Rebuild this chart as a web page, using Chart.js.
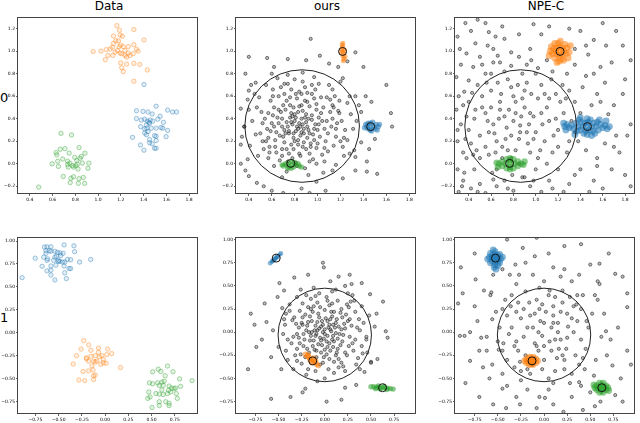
<!DOCTYPE html>
<html>
<head>
<meta charset="utf-8">
<script src="https://cdn.jsdelivr.net/npm/chart.js@4.4.1/dist/chart.umd.min.js"></script>
<style>
body { margin: 0; background: #fff; width: 640px; height: 423px; position: relative; overflow: hidden; font-family: "DejaVu Sans", sans-serif; }
.title { position: absolute; top: -1px; width: 182px; text-align: center; font-size: 12px; }
.rowlab { position: absolute; left: 0; font-size: 13px; }
canvas { position: absolute; }
</style>
</head>
<body>
<div class="title" style="left:18px">Data</div>
<div class="title" style="left:236px">ours</div>
<div class="title" style="left:455px">NPE-C</div>
<div class="rowlab" style="top:90px">0</div>
<div class="rowlab" style="top:310px">1</div>
<canvas id="c00" width="202" height="192" style="left:0px;top:12px"></canvas>
<canvas id="c01" width="202" height="192" style="left:218px;top:12px"></canvas>
<canvas id="c02" width="202" height="192" style="left:437px;top:12px"></canvas>
<canvas id="c10" width="202" height="192" style="left:0px;top:232px"></canvas>
<canvas id="c11" width="202" height="192" style="left:218px;top:232px"></canvas>
<canvas id="c12" width="202" height="192" style="left:437px;top:232px"></canvas>
<script>
// tick labels
const xTicks0 = [0.4, 0.6, 0.8, 1.0, 1.2, 1.4, 1.6, 1.8];
const yTicks0 = [-0.2, 0.0, 0.2, 0.4, 0.6, 0.8, 1.0, 1.2];
const xTicks1 = [-0.75, -0.5, -0.25, 0.0, 0.25, 0.5, 0.75];
const yTicks1 = [-0.75, -0.5, -0.25, 0.0, 0.25, 0.5, 0.75, 1.0];

// row 0 observed data (x, y pairs)
const data0Blue = [1.404,0.703, 1.511,0.510, 1.612,0.476, 1.655,0.459, 1.690,0.459, 1.338,0.470, 1.396,0.464, 1.439,0.459, 1.476,0.441, 1.546,0.421,
  1.338,0.401, 1.381,0.387, 1.410,0.395, 1.433,0.378, 1.448,0.367, 1.459,0.387, 1.482,0.378, 1.526,0.395, 1.575,0.367, 1.375,0.329,
  1.410,0.309, 1.430,0.315, 1.453,0.358, 1.468,0.315, 1.511,0.315, 1.554,0.321, 1.569,0.315, 1.612,0.295, 1.303,0.234, 1.410,0.272,
  1.425,0.257, 1.497,0.249, 1.511,0.243, 1.598,0.240, 1.453,0.214, 1.511,0.206, 1.373,0.166, 1.453,0.186, 1.476,0.177, 1.497,0.137,
  1.511,0.137, 1.404,0.120, 1.425,0.344, 1.439,0.286];
const data0Orange = [1.165,1.226, 1.188,1.186, 1.315,1.191, 1.136,1.134, 1.194,1.143, 1.214,1.131, 1.179,1.091, 1.156,1.091, 1.404,1.099, 0.957,0.996,
  1.026,0.999, 1.072,1.013, 1.107,1.019, 1.127,1.033, 1.136,1.068, 1.199,1.053, 1.222,1.039, 1.266,1.039, 1.315,1.056, 1.338,1.016,
  1.352,0.999, 1.087,0.961, 1.130,0.961, 1.194,0.982, 1.208,0.976, 1.237,0.961, 1.266,0.982, 1.280,0.961, 1.309,0.976, 1.064,0.924,
  1.199,0.895, 1.251,0.884, 1.315,0.890, 1.367,0.881, 1.208,0.852, 1.433,0.832, 1.222,0.818, 1.315,0.732, 1.171,1.005, 1.185,1.039,
  1.237,1.005, 1.251,0.947, 1.150,0.990];
const data0Green = [0.674,0.269, 0.767,0.255, 0.833,0.143, 0.885,0.094, 0.668,0.128, 0.709,0.134, 0.631,0.099, 0.637,0.079, 0.746,0.094, 0.795,0.056,
  0.853,0.065, 0.842,0.048, 0.689,0.042, 0.645,0.022, 0.596,-0.001, 0.732,0.022, 0.752,0.005, 0.775,-0.016, 0.804,-0.018, 0.818,-0.004,
  0.862,0.005, 0.919,0.005, 0.651,-0.024, 0.738,-0.030, 0.784,-0.030, 0.824,-0.047, 0.911,-0.041, 0.694,-0.113, 0.761,-0.130, 0.784,-0.116,
  0.833,-0.133, 0.870,-0.122, 0.755,-0.168, 0.827,-0.174, 0.882,-0.174, 0.478,-0.208, 0.732,-0.007, 0.813,0.028];

// row 1 observed data
const data1Blue = [-0.653,0.934, -0.625,0.937, -0.583,0.937, -0.441,0.958, -0.335,0.948, -0.636,0.895, -0.600,0.895, -0.583,0.888, -0.540,0.888, -0.512,0.877,
  -0.484,0.870, -0.452,0.866, -0.328,0.884, -0.752,0.813, -0.660,0.824, -0.618,0.806, -0.540,0.824, -0.523,0.835, -0.477,0.842, -0.625,0.789,
  -0.554,0.789, -0.501,0.789, -0.487,0.778, -0.459,0.771, -0.434,0.771, -0.406,0.799, -0.371,0.796, -0.275,0.771, -0.155,0.799, -0.678,0.725,
  -0.583,0.728, -0.530,0.736, -0.441,0.728, -0.388,0.700, -0.371,0.700, -0.625,0.675, -0.583,0.682, -0.583,0.629, -0.434,0.654, -0.417,0.591,
  -0.540,0.576, -0.893,0.601, -0.505,0.778, -0.636,0.866];
const data1Orange = [-0.230,-0.085, -0.177,-0.131, -0.258,-0.177, -0.152,-0.191, -0.071,-0.166, 0.028,-0.177, -0.307,-0.248, -0.201,-0.272, -0.152,-0.255, -0.106,-0.248,
  -0.060,-0.262, -0.035,-0.248, 0.018,-0.237, 0.071,-0.226, -0.343,-0.339, -0.201,-0.283, -0.177,-0.308, -0.124,-0.308, -0.088,-0.308, -0.106,-0.318,
  -0.018,-0.290, 0.011,-0.332, -0.046,-0.343, -0.141,-0.361, 0.166,-0.378, -0.131,-0.403, -0.237,-0.421, -0.177,-0.414, -0.124,-0.467, -0.106,-0.460,
  -0.282,-0.513, -0.219,-0.520, -0.124,-0.509, -0.018,-0.325, -0.071,-0.212];
const data1Green = [0.572,-0.396, 0.671,-0.361, 0.512,-0.424, 0.600,-0.421, 0.646,-0.467, 0.731,-0.424, 0.477,-0.545, 0.512,-0.555, 0.565,-0.545, 0.611,-0.537,
  0.636,-0.527, 0.583,-0.573, 0.625,-0.573, 0.689,-0.580, 0.802,-0.502, 0.717,-0.601, 0.742,-0.608, 0.759,-0.601, 0.812,-0.583, 0.936,-0.520,
  0.470,-0.644, 0.547,-0.661, 0.583,-0.668, 0.625,-0.672, 0.671,-0.661, 0.706,-0.644, 0.766,-0.661, 0.459,-0.714, 0.484,-0.697, 0.583,-0.750,
  0.653,-0.750, 0.689,-0.767, 0.777,-0.714, 0.583,-0.792, 0.689,-0.792, 0.505,-0.813, 0.611,-0.622, 0.682,-0.626];

// true parameters
const truth0 = [1.218,0.998, 1.463,0.330, 0.766,0.003];
const truth1 = [-0.525,0.800, -0.130,-0.310, 0.625,-0.600];

// prior samples (grey)
const oursGrey0 = [0.85,0.33, 0.81,0.29, 0.90,0.37, 0.76,0.41, 0.96,0.26, 0.71,0.30, 1.01,0.41, 0.83,0.46, 0.88,0.19, 0.66,0.36,
  1.06,0.31, 0.79,0.23, 0.93,0.51, 0.61,0.43, 1.11,0.46, 0.73,0.56, 0.99,0.14, 0.84,0.09, 0.56,0.31, 1.16,0.24,
  0.69,0.13, 1.03,0.59, 0.91,0.63, 0.63,0.21, 1.21,0.38, 0.51,0.46, 0.77,0.66, 1.09,0.11, 0.59,0.56, 0.96,0.04,
  0.81,0.01, 1.19,0.56, 0.46,0.26, 0.71,0.71, 1.26,0.21, 0.87,0.73, 0.53,0.13, 1.13,0.66, 0.67,0.03, 1.06,0.02,
  0.43,0.38, 0.61,0.66, 0.97,0.77, 0.74,0.79, 1.29,0.44, 0.49,0.59, 1.23,0.07, 0.57,0.05, 0.89,-0.04, 0.73,-0.07,
  1.16,-0.01, 0.41,0.16, 1.31,0.31, 0.65,0.76, 1.01,0.71, 0.78,0.35, 0.92,0.30, 0.86,0.40, 0.80,0.38, 0.95,0.43,
  0.74,0.33, 0.88,0.27, 0.83,0.21, 0.98,0.35, 0.70,0.24, 0.77,0.17, 1.02,0.24, 0.94,0.18, 0.68,0.46, 0.86,0.52,
  1.05,0.50, 0.64,0.28, 0.79,0.50, 0.90,0.44, 0.72,0.48, 1.08,0.38, 0.60,0.36, 0.97,0.58, 0.82,0.58, 1.12,0.33,
  0.55,0.20, 0.75,0.09, 0.93,0.09, 1.14,0.16, 0.62,0.50, 0.84,0.64, 1.07,0.20, 0.66,0.60, 0.99,0.48, 0.52,0.36,
  1.18,0.47, 0.47,0.50, 0.71,0.62, 1.24,0.30, 0.58,0.10, 0.89,0.68, 1.15,0.60, 0.78,0.05, 1.04,0.08, 0.48,0.07,
  0.62,-0.02, 1.22,0.15, 0.45,0.62, 0.80,0.75, 1.10,0.70, 0.36,0.33, 1.34,0.38, 0.55,0.70, 0.92,-0.10, 1.26,0.54,
  0.69,-0.12, 1.05,-0.08, 0.40,0.48, 0.87,0.81, 0.39,0.04, 1.32,0.12, 0.60,0.80, 1.20,0.73, 0.75,0.27, 0.84,0.36,
  0.91,0.23, 0.80,0.44, 0.69,0.40, 1.00,0.30, 0.87,0.15, 0.76,0.52, 0.95,0.62, 0.63,0.15, 1.17,0.36, 0.57,0.45,
  0.82,-0.02, 0.99,0.00, 0.74,0.71, 1.13,0.52, 0.50,0.27, 1.28,0.60, 0.42,0.70, 1.36,0.52,
  0.83,0.31, 0.87,0.35, 0.79,0.27, 0.91,0.33, 0.85,0.25, 0.81,0.41, 0.93,0.27, 0.77,0.37, 0.89,0.41, 0.75,0.29,
  0.95,0.39, 0.83,0.17, 0.73,0.37, 0.97,0.21, 0.87,0.47, 0.79,0.13, 0.69,0.33, 1.01,0.35, 0.91,0.55, 0.67,0.25,
  1.03,0.45, 0.77,0.45, 0.85,0.07, 0.65,0.41, 1.09,0.27, 0.71,0.19, 0.99,0.53, 0.59,0.29, 1.13,0.40, 0.81,0.62,
  0.64,0.10, 1.11,0.57, 0.93,0.02, 0.70,0.52, 1.06,0.14, 0.54,0.40, 0.76,0.59, 1.16,0.31, 0.90,0.13, 0.61,0.60,
  1.19,0.45, 0.74,0.02, 0.95,0.70, 0.52,0.20, 1.23,0.23, 0.86,0.62, 0.68,0.68, 1.08,0.59, 0.57,0.23, 0.88,0.31,
  0.82,0.33, 0.86,0.28, 0.80,0.20, 0.92,0.40, 0.72,0.27, 0.97,0.31, 0.78,0.42, 0.84,0.51, 0.94,0.15, 0.66,0.48,
  1.04,0.38, 0.73,0.13, 0.89,0.56, 1.00,0.18, 0.62,0.33, 1.14,0.50, 0.58,0.15, 0.98,0.66, 0.69,0.07, 1.20,0.20,
  0.94,1.11, 0.40,0.95, 0.37,0.80, 0.56,0.94, 0.74,0.93, 1.02,0.96, 1.10,0.89, 1.18,0.86, 1.33,0.99, 1.26,0.91,
  1.40,0.86, 1.60,0.70, 1.47,0.55, 1.64,0.45, 1.65,0.33, 1.50,0.22, 1.45,0.13, 1.43,0.02, 1.43,-0.07, 1.33,-0.06,
  1.22,-0.13, 1.13,-0.06, 1.07,-0.24, 0.93,-0.26, 0.86,-0.22, 0.70,-0.26, 0.60,-0.24, 0.47,-0.17, 0.40,-0.11, 0.33,0.00,
  0.37,-0.06, 0.33,0.17, 0.34,0.24, 0.36,0.33, 0.33,0.49, 0.39,0.57, 0.46,0.72, 0.40,0.65, 1.28,0.09, 1.33,0.06,
  1.38,0.19, 1.38,0.46, 1.42,0.60, 1.33,0.60, 1.22,0.76, 0.90,0.92, 0.62,0.86, 0.53,-0.20, 0.99,-0.16, 1.52,-0.09];
const npeGrey0 = [0.48,1.28, 0.37,1.25, 0.58,1.17, 0.64,1.13, 0.46,1.07, 0.30,1.13, 0.72,1.11, 0.38,0.98, 0.50,0.95, 0.62,1.02,
  0.78,0.99, 0.33,0.88, 0.44,0.86, 0.55,0.80, 0.68,0.90, 0.29,0.77, 0.40,0.74, 0.36,0.64, 0.85,0.95, 0.95,1.02,
  0.98,1.24, 1.05,1.15, 0.92,0.88, 1.10,0.92, 1.02,0.85, 0.78,0.87, 1.40,1.18, 1.52,1.10, 1.47,0.97, 1.63,1.05,
  1.72,1.18, 1.85,0.92, 1.58,0.86, 1.35,0.88, 1.28,0.80, 1.45,0.78, 1.62,0.72, 1.78,0.62, 1.55,0.62, 1.42,0.68,
  1.70,0.52, 1.50,0.52, 1.85,0.35, 1.65,0.44, 1.30,1.20, 1.80,0.75, 1.12,1.22, 1.62,0.18, 1.75,0.10, 1.55,0.05,
  1.45,0.12, 1.68,-0.05, 1.80,-0.10, 1.52,-0.15, 1.40,-0.05, 1.60,-0.22, 1.38,0.20, 1.48,-0.25, 1.72,0.25, 1.85,-0.20,
  1.30,-0.18, 1.25,-0.25, 0.30,-0.05, 0.35,-0.15, 0.42,-0.22, 0.31,-0.25, 0.50,-0.18, 0.55,-0.26, 0.38,0.05, 0.30,0.20,
  0.33,0.35, 0.29,0.48, 0.65,-0.20, 0.72,-0.15, 0.80,-0.24, 0.95,-0.20, 1.05,-0.25, 1.12,-0.15, 0.88,-0.12, 0.45,-0.05,
  0.86,0.34, 0.72,0.42, 1.00,0.28, 0.65,0.20, 1.10,0.50, 0.80,0.60, 0.95,0.10, 0.55,0.45, 1.20,0.30, 0.70,0.05,
  1.05,0.70, 0.50,0.25, 0.90,0.50, 0.60,0.65, 1.15,0.10, 0.78,0.25, 0.98,0.42, 0.82,0.12, 0.62,0.35, 1.25,0.45,
  0.45,0.40, 0.75,0.75, 1.08,0.20, 0.58,0.08, 0.92,0.72, 1.30,0.20, 0.40,0.55, 0.68,0.55, 1.02,0.58, 0.85,0.00,
  1.18,0.62, 0.52,0.60, 0.88,0.80, 0.65,-0.05, 1.00,-0.05, 0.42,0.18, 1.32,0.38, 0.74,0.32, 0.94,0.35, 0.82,0.45,
  0.70,0.15, 1.12,0.38, 0.60,0.50, 0.85,0.22, 1.05,0.45, 0.48,0.70, 0.78,0.68, 0.96,0.62, 1.22,0.55, 0.55,0.15,
  0.40,0.30, 0.66,0.72, 1.10,0.00, 0.90,-0.12, 1.28,0.10, 0.50,0.05, 0.72,0.82, 1.00,0.80, 0.38,0.42, 1.35,0.28,
  0.80,0.38, 0.88,0.58, 1.04,0.12, 0.63,0.27, 0.76,0.48, 0.98,0.22, 1.16,0.25, 0.57,0.38, 0.69,0.62, 0.84,0.70,
  1.14,0.75, 0.47,0.12, 0.61,-0.08, 0.79,-0.10, 1.20,-0.05, 0.35,0.10, 0.43,0.63, 1.24,0.70, 0.67,0.40, 0.93,0.18,
  0.73,0.22, 0.87,0.42, 1.08,0.62, 0.52,0.50, 0.60,0.80, 1.27,0.58, 0.37,0.22, 0.31,0.60, 0.34,-0.20, 0.57,1.05,
  0.32,1.02, 0.42,1.18, 0.55,1.25, 0.70,1.22, 0.85,1.15, 0.66,0.96, 0.52,0.88, 0.35,0.52, 0.30,0.30, 0.44,0.08,
  0.36,-0.08, 0.48,-0.25, 0.62,-0.14, 0.75,-0.22, 0.98,-0.15, 1.15,-0.22, 1.35,-0.10, 1.55,-0.02, 1.70,0.15, 1.82,0.25,
  1.58,0.55, 1.35,0.55, 1.40,0.45, 1.52,0.80, 1.68,0.90, 1.45,1.05, 1.60,1.25, 1.78,1.05, 1.35,1.02, 1.15,0.82,
  0.96,0.92, 0.62,0.90, 0.75,0.12, 0.92,0.28, 1.06,0.35, 0.82,0.55, 0.58,0.28, 1.20,0.15, 1.02,0.05, 0.68,0.48,
  0.90,0.65, 1.12,0.58, 0.46,0.48, 0.56,0.72, 1.30,0.65, 0.78,0.05, 0.95,0.45, 1.18,0.40, 0.64,0.10, 0.86,0.28];
const oursGrey1 = [0.00,-0.02, -0.05,-0.06, 0.06,0.03, -0.10,0.07, 0.10,-0.10, -0.15,-0.04, 0.15,0.06, -0.03,0.12, 0.03,-0.16, -0.20,0.02,
  0.20,-0.03, -0.07,-0.13, 0.08,0.17, -0.25,0.10, 0.25,0.12, -0.13,0.22, 0.13,-0.22, -0.01,-0.27, -0.30,-0.02, 0.30,-0.12,
  -0.17,-0.22, 0.18,0.25, 0.05,0.29, -0.23,-0.15, 0.35,0.05, -0.35,0.13, -0.08,0.32, 0.24,-0.25, -0.27,0.23, 0.10,-0.32,
  -0.05,-0.35, 0.33,0.22, -0.40,-0.08, -0.15,0.36, 0.40,-0.15, 0.02,0.38, -0.32,-0.25, 0.15,-0.38, -0.42,0.20, 0.28,0.33,
  -0.25,-0.34, 0.42,0.10, -0.20,0.40, 0.08,0.44, 0.36,-0.28, -0.38,0.30, -0.10,-0.42, 0.22,-0.42, -0.45,-0.02, 0.45,-0.05,
  -0.08,0.02, 0.04,0.05, -0.02,0.08, 0.09,-0.04, -0.12,-0.09, 0.12,0.10, -0.06,0.16, 0.02,-0.10, -0.18,0.11, 0.17,-0.14,
  -0.22,-0.08, 0.22,0.04, -0.11,-0.19, 0.07,0.22, -0.16,0.17, 0.12,-0.25, -0.28,0.05, 0.27,-0.05, 0.00,0.24, -0.04,-0.22,
  0.19,0.16, -0.21,-0.27, 0.31,-0.20, -0.33,0.16, 0.05,-0.29, -0.12,0.28, 0.26,0.27, -0.30,-0.18, 0.37,0.14, -0.24,0.31,
  0.14,0.34, -0.36,-0.12, 0.34,-0.35, -0.06,0.42, 0.18,-0.33, -0.43,0.08, 0.40,0.28, -0.18,-0.40, 0.04,-0.40, -0.30,0.38,
  0.46,-0.22, -0.40,-0.30, 0.30,0.40, -0.46,0.26, 0.48,0.18, -0.12,0.48, 0.12,0.46, -0.34,-0.40, 0.38,-0.40, -0.50,-0.16,
  0.50,-0.32, 0.22,0.50, -0.26,0.46, 0.00,-0.50, 0.09,0.08, -0.09,-0.02, 0.01,0.15, -0.14,0.00, 0.14,-0.07, -0.03,-0.14,
  0.06,-0.20, -0.19,-0.18, 0.23,0.19, -0.24,0.16,
  -0.02,0.00, 0.03,-0.04, -0.06,0.04, 0.07,0.01, -0.04,-0.09, 0.11,0.05, -0.11,0.02, 0.05,-0.12, -0.08,0.11, 0.16,-0.02,
  -0.16,-0.09, 0.03,0.12, -0.13,-0.15, 0.13,0.14, -0.19,0.07, 0.19,-0.10, 0.00,-0.19, -0.07,0.20, 0.21,0.09, -0.23,-0.02,
  0.09,-0.16, -0.14,0.12, 0.17,0.21, -0.21,0.19, 0.26,-0.15, -0.27,-0.12, 0.08,0.31, -0.09,-0.27, 0.29,0.07, -0.31,0.09,
  0.15,-0.29, -0.18,0.27, 0.33,-0.08, -0.02,-0.33, 0.03,0.34, -0.34,-0.05, 0.24,0.30, -0.26,-0.24, 0.38,0.02, -0.10,0.39,
  0.20,-0.37, -0.38,0.23, 0.32,0.34, -0.30,-0.31, 0.41,-0.23, -0.42,-0.20, 0.10,-0.44, -0.20,-0.46, 0.25,0.42, -0.44,0.14,
  0.00,0.03, 0.05,0.08, -0.04,0.06, 0.08,-0.08, -0.10,-0.04, 0.12,-0.01, -0.01,-0.07, 0.18,0.03, -0.17,0.00, 0.06,0.14,
  -0.09,-0.20, 0.14,-0.18, -0.24,0.08, 0.27,0.14, -0.05,0.27, 0.02,-0.24, -0.28,-0.06, 0.22,-0.22, -0.15,0.25, 0.10,0.22,
  -0.02,0.75, -0.01,0.70, -0.18,0.62, 0.15,0.60, 0.27,0.62, 0.40,0.53, 0.49,0.41, 0.63,0.33, 0.56,0.20, 0.66,0.01,
  0.68,-0.06, 0.50,-0.33, 0.57,-0.29, 0.34,-0.57, 0.18,-0.73, 0.02,-0.75, -0.24,-0.65, -0.37,-0.70, -0.58,-0.72, -0.47,-0.40,
  -0.58,-0.27, -0.83,-0.40, -0.74,-0.16, -0.76,0.08, -0.80,0.20, -0.65,0.31, -0.63,0.11, -0.49,0.53, -0.44,0.45, -0.68,-0.08,
  -0.56,0.02, -0.51,0.38, 0.45,-0.08, 0.54,0.06, 0.06,0.55, -0.08,-0.53, -0.21,-0.61, 0.22,-0.60, 0.43,-0.43, -0.33,0.59, 0.29,0.52];
const npeGrey1 = [-0.23,0.91, -0.08,1.02, -0.40,1.00, 0.22,0.93, 0.05,0.85, -0.10,0.82, 0.22,0.68, 0.50,0.73, 0.60,0.74, 0.77,0.63,
  0.90,0.42, 0.90,0.27, 0.94,-0.35, 0.67,0.01, 0.72,-0.08, 0.65,0.20, 0.74,-0.36, 0.77,-0.68, 0.61,-0.75, 0.42,-0.84,
  0.21,-0.86, 0.01,-0.71, -0.08,-0.82, -0.26,-0.78, -0.45,-0.61, -0.59,-0.50, -0.66,-0.38, -0.80,-0.31, -0.86,-0.04, -0.91,-0.04,
  -0.93,0.31, -0.88,0.42, -0.74,0.57, -0.72,0.12, -0.57,0.43, -0.56,0.14, -0.49,-0.19, -0.68,-0.06, -0.37,0.62, -0.31,0.73,
  -0.27,0.62, 0.38,0.62, 0.60,0.52, 0.54,-0.47, 0.83,-0.50, 0.38,-0.54, -0.41,-0.82, -0.18,-0.62,
  -0.02,-0.04, 0.15,0.10, -0.18,0.05, 0.08,-0.20, -0.30,-0.10, 0.32,0.00, -0.05,0.25, 0.22,-0.30, -0.40,0.18, 0.40,0.25,
  -0.12,-0.35, 0.05,0.40, -0.28,0.32, 0.28,0.38, -0.45,-0.20, 0.45,-0.18, -0.20,-0.25, 0.12,-0.42, -0.35,0.40, 0.38,-0.35,
  0.00,0.10, -0.10,-0.12, 0.18,-0.08, -0.25,0.15, 0.25,0.20, -0.08,0.35, 0.10,0.28, -0.38,-0.02, 0.36,0.12, -0.15,-0.45,
  0.00,-0.30, 0.30,-0.45, -0.32,-0.38, 0.48,0.05, -0.48,0.05, 0.20,0.45, -0.20,0.44, 0.42,0.40, -0.42,0.35, 0.05,-0.50,
  -0.05,0.48, 0.15,0.00, -0.15,0.18, 0.06,-0.10, -0.22,-0.05, 0.24,-0.18, -0.06,-0.20, 0.10,0.18, -0.30,0.22, 0.32,0.28,
  -0.12,0.05, 0.02,0.22, 0.20,0.32, -0.26,-0.32, 0.40,-0.08, -0.40,-0.30, 0.14,-0.28, -0.02,-0.40, 0.34,-0.25, -0.35,0.05,
  0.26,0.06, -0.16,0.32, 0.08,0.05, -0.06,0.00, 0.44,-0.40, -0.50,-0.10, 0.52,0.20, -0.52,0.22, 0.10,-0.55, -0.25,-0.52,
  0.28,-0.55, 0.00,0.55, -0.30,0.52, 0.30,0.55, 0.56,-0.30, -0.56,-0.35, 0.58,0.35, -0.58,0.40, 0.62,-0.05, -0.62,-0.05,
  0.18,0.60, -0.12,0.62, 0.40,-0.58, -0.40,-0.58, 0.05,-0.62, -0.08,-0.15, 0.12,0.38, -0.36,0.28, 0.22,-0.40, -0.18,-0.40,
  0.36,0.40, -0.44,-0.12, 0.46,0.12, -0.02,0.30, 0.16,-0.18, -0.28,-0.20, 0.30,0.15,
  -0.90,0.70, -0.75,0.85, -0.80,0.00, -0.70,-0.20, -0.85,-0.55, -0.70,-0.70, -0.55,-0.78, -0.30,-0.70, 0.10,-0.78, 0.30,-0.70,
  0.55,-0.80, 0.85,-0.75, 0.90,-0.20, 0.80,0.05, 0.85,0.60, 0.70,0.85, 0.40,0.95, 0.10,0.70, -0.20,0.75, -0.45,0.68,
  -0.65,0.45, -0.75,0.28, -0.62,-0.20, -0.55,0.62, 0.55,0.40, 0.68,-0.25, 0.50,-0.65, -0.05,-0.70, -0.45,-0.45, 0.58,0.55,
  -0.04,0.12, 0.12,-0.08, -0.22,0.25, 0.18,0.22, -0.10,-0.28, 0.25,-0.06, -0.32,-0.15, 0.06,0.45, -0.45,0.25, 0.42,-0.28,
  -0.10,0.20, 0.20,-0.25, 0.35,0.30, -0.25,-0.42, 0.00,-0.15, 0.10,0.10];

// posterior samples (coloured blobs)
const oursBlue0 = [1.46,0.33, 1.43,0.33, 1.49,0.33, 1.46,0.36, 1.46,0.30, 1.42,0.35, 1.51,0.35, 1.44,0.31, 1.50,0.31, 1.53,0.33,
  1.41,0.32, 1.48,0.37, 1.44,0.36, 1.52,0.30, 1.47,0.29, 1.54,0.35];
const oursOrange0 = [1.22,1.00, 1.22,1.04, 1.22,0.96, 1.23,0.93, 1.21,1.02, 1.23,0.98, 1.215,1.055, 1.225,0.915, 1.235,1.01, 1.205,0.99,
  1.22,1.07, 1.24,0.95];
const oursGreen0 = [0.77,-0.01, 0.73,-0.01, 0.81,-0.01, 0.75,-0.03, 0.79,-0.03, 0.75,0.01, 0.80,0.01, 0.70,-0.02, 0.84,-0.02, 0.72,0.00,
  0.83,0.00, 0.77,-0.04, 0.86,-0.03, 0.69,-0.01, 0.78,0.02, 0.74,-0.04];
const npeBlue0 = [1.46,0.33, 1.42,0.33, 1.50,0.33, 1.38,0.33, 1.54,0.33, 1.44,0.36, 1.48,0.30, 1.40,0.30, 1.52,0.36, 1.36,0.36,
  1.56,0.30, 1.34,0.31, 1.58,0.35, 1.45,0.29, 1.47,0.37, 1.41,0.37, 1.51,0.29, 1.37,0.29, 1.55,0.37, 1.32,0.34,
  1.60,0.32, 1.43,0.27, 1.49,0.39, 1.39,0.39, 1.53,0.27, 1.30,0.32, 1.62,0.34, 1.28,0.35, 1.64,0.31, 1.26,0.33,
  1.35,0.26, 1.57,0.39, 1.46,0.40, 1.46,0.26, 1.25,0.36, 1.27,0.30, 1.66,0.33, 1.63,0.38, 1.40,0.41, 1.50,0.25];
const npeOrange0 = [1.215,1.00, 1.18,1.00, 1.25,1.00, 1.215,1.04, 1.215,0.96, 1.19,1.03, 1.24,1.03, 1.19,0.97, 1.24,0.97, 1.16,1.02,
  1.27,0.98, 1.20,1.07, 1.23,0.93, 1.15,0.98, 1.28,1.03, 1.17,0.94, 1.26,1.06, 1.14,1.04, 1.30,0.99, 1.21,0.91,
  1.22,1.09, 1.13,1.00, 1.29,0.94, 1.17,1.07, 1.25,0.92, 1.31,1.05, 1.12,0.96, 1.19,0.90];
const npeGreen0 = [0.77,0.00, 0.73,0.00, 0.81,0.00, 0.77,0.03, 0.77,-0.03, 0.70,0.02, 0.84,-0.02, 0.70,-0.02, 0.84,0.02, 0.74,0.04,
  0.80,-0.04, 0.67,0.00, 0.87,0.00, 0.74,-0.04, 0.80,0.04, 0.65,0.01, 0.89,-0.01, 0.90,0.02, 0.66,-0.03, 0.77,0.05, 0.77,-0.05];
const oursBlue1 = [-0.59,0.745, -0.57,0.765, -0.55,0.78, -0.53,0.80, -0.51,0.815, -0.49,0.835, -0.475,0.85, -0.54,0.79, -0.52,0.81, -0.56,0.77];
const oursOrange1 = [-0.21,-0.24, -0.19,-0.26, -0.17,-0.27, -0.15,-0.29, -0.13,-0.31, -0.11,-0.33, -0.09,-0.345, -0.07,-0.36, -0.16,-0.30, -0.12,-0.28,
  -0.14,-0.33, -0.18,-0.245, -0.10,-0.31];
const oursGreen1 = [0.50,-0.59, 0.53,-0.59, 0.56,-0.595, 0.59,-0.60, 0.62,-0.60, 0.65,-0.60, 0.68,-0.605, 0.71,-0.61, 0.74,-0.615, 0.58,-0.58,
  0.64,-0.585, 0.60,-0.615, 0.67,-0.62, 0.55,-0.61];
const npeBlue1 = [-0.53,0.80, -0.56,0.80, -0.50,0.80, -0.53,0.84, -0.53,0.76, -0.56,0.83, -0.50,0.83, -0.56,0.77, -0.50,0.77, -0.59,0.81,
  -0.47,0.79, -0.53,0.87, -0.53,0.73, -0.58,0.85, -0.48,0.84, -0.58,0.75, -0.48,0.75, -0.54,0.70, -0.52,0.68, -0.61,0.79,
  -0.45,0.81, -0.55,0.89, -0.50,0.72];
const npeOrange1 = [-0.14,-0.31, -0.17,-0.31, -0.11,-0.31, -0.14,-0.28, -0.14,-0.34, -0.19,-0.29, -0.09,-0.33, -0.19,-0.33, -0.09,-0.29, -0.21,-0.31,
  -0.07,-0.31, -0.16,-0.35, -0.12,-0.27, -0.12,-0.35, -0.16,-0.27];
const npeGreen1 = [0.62,-0.60, 0.59,-0.60, 0.65,-0.60, 0.62,-0.57, 0.62,-0.63, 0.57,-0.58, 0.67,-0.62, 0.57,-0.62, 0.67,-0.58, 0.55,-0.60,
  0.69,-0.60, 0.60,-0.65, 0.64,-0.55, 0.64,-0.65, 0.60,-0.55, 0.70,-0.63, 0.54,-0.57];

// prior circle (centre x, centre y, radius)
const ring0 = [0.865, 0.335, 0.5];
const ring1 = [0.0, -0.03, 0.505];

const BLUE = '31,119,180', ORANGE = '255,127,14', GREEN = '44,160,44';

function pts(a) {
    const out = [];
    for (let i = 0; i < a.length; i += 2) out.push({ x: a[i], y: a[i + 1] });
    return out;
}

const ringPlugin = {
    id: 'ring',
    afterDatasetsDraw(chart, args, opts) {
        if (!opts.c) return;
        const { ctx, chartArea: a, scales: { x, y } } = chart;
        const [cx, cy, r] = opts.c;
        const px = x.getPixelForValue(cx), py = y.getPixelForValue(cy);
        const rx = Math.abs(x.getPixelForValue(cx + r) - px);
        const ry = Math.abs(y.getPixelForValue(cy + r) - py);
        ctx.save();
        ctx.beginPath();
        ctx.rect(a.left, a.top, a.width, a.height);
        ctx.clip();
        ctx.beginPath();
        ctx.ellipse(px, py, rx, ry, 0, 0, Math.PI * 2);
        ctx.strokeStyle = '#222';
        ctx.lineWidth = 1;
        ctx.stroke();
        ctx.restore();
    }
};

const framePlugin = {
    id: 'frame',
    afterDraw(chart) {
        const { ctx, chartArea: a } = chart;
        ctx.save();
        ctx.strokeStyle = '#444';
        ctx.lineWidth = 1;
        ctx.strokeRect(Math.round(a.left) - 0.5, Math.round(a.top) + 0.5, Math.round(a.width) + 1, Math.round(a.height) - 1);
        ctx.restore();
    }
};
Chart.register(ringPlugin, framePlugin);

function obs(a, c) {
    return { data: pts(a), pointRadius: 2.2, borderWidth: 0.8,
             backgroundColor: 'rgba(' + c + ',0.12)', borderColor: 'rgba(' + c + ',0.5)' };
}
function grey(a) {
    return { data: pts(a), pointRadius: 1.6, borderWidth: 0.7, order: 3,
             backgroundColor: 'rgba(90,90,90,0.4)', borderColor: 'rgba(0,0,0,0.7)' };
}
function blob(a, c, r) {
    return { data: pts(a), pointRadius: r, borderWidth: 0, order: 2,
             backgroundColor: 'rgba(' + c + ',0.55)' };
}
function truth(a) {
    return { data: pts(a), pointRadius: 4, borderWidth: 1, order: 1,
             backgroundColor: 'rgba(0,0,0,0)', borderColor: '#111' };
}

function axis(min, max, ticks, dec, isX) {
    return {
        type: 'linear', min: min, max: max,
        afterBuildTicks: s => { s.ticks = ticks.map(v => ({ value: v })); },
        afterFit: s => { if (isX) s.height = 10; else s.width = 18; },
        ticks: { font: { size: 4.5, family: 'DejaVu Sans' }, color: '#000', padding: 1, autoSkip: false, maxRotation: 0,
                 callback: v => v.toFixed(dec).replace('-', '\u2212') },
        grid: { display: true, drawOnChartArea: false, tickLength: 2, color: '#000', lineWidth: 0.6 },
        border: { display: false }
    };
}

function panel(id, xr, yr, xt, yt, dec, datasets, ring) {
    new Chart(document.getElementById(id), {
        type: 'scatter',
        data: { datasets: datasets },
        options: {
            responsive: false, animation: false, events: [],
            layout: { padding: { top: 0, right: 2, left: 0, bottom: 0 } },
            plugins: { legend: { display: false }, tooltip: { enabled: false }, ring: { c: ring } },
            scales: { x: axis(xr[0], xr[1], xt, dec, true), y: axis(yr[0], yr[1], yt, dec, false) }
        }
    });
}

panel('c00', [0.296, 1.872], [-0.269, 1.304], xTicks0, yTicks0, 1,
      [obs(data0Blue, BLUE), obs(data0Orange, ORANGE), obs(data0Green, GREEN)], null);
panel('c01', [0.288, 1.850], [-0.269, 1.304], xTicks0, yTicks0, 1,
      [truth(truth0), blob(oursBlue0, BLUE, 2.7), blob(oursOrange0, ORANGE, 2.5), blob(oursGreen0, GREEN, 2.7), grey(oursGrey0)], ring0);
panel('c02', [0.277, 1.880], [-0.269, 1.304], xTicks0, yTicks0, 1,
      [truth(truth0), blob(npeBlue0, BLUE, 3.4), blob(npeOrange0, ORANGE, 3.4), blob(npeGreen0, GREEN, 3.2), grey(npeGrey0)], ring0);
panel('c10', [-0.937, 0.991], [-0.884, 1.046], xTicks1, yTicks1, 2,
      [obs(data1Blue, BLUE), obs(data1Orange, ORANGE), obs(data1Green, GREEN)], null);
panel('c11', [-0.960, 0.976], [-0.884, 1.028], xTicks1, yTicks1, 2,
      [truth(truth1), blob(oursBlue1, BLUE, 2.4), blob(oursOrange1, ORANGE, 2.8), blob(oursGreen1, GREEN, 2.7), grey(oursGrey1)], ring1);
panel('c12', [-0.963, 0.973], [-0.884, 1.028], xTicks1, yTicks1, 2,
      [truth(truth1), blob(npeBlue1, BLUE, 3.4), blob(npeOrange1, ORANGE, 3.4), blob(npeGreen1, GREEN, 3.4), grey(npeGrey1)], ring1);
</script>
</body>
</html>
